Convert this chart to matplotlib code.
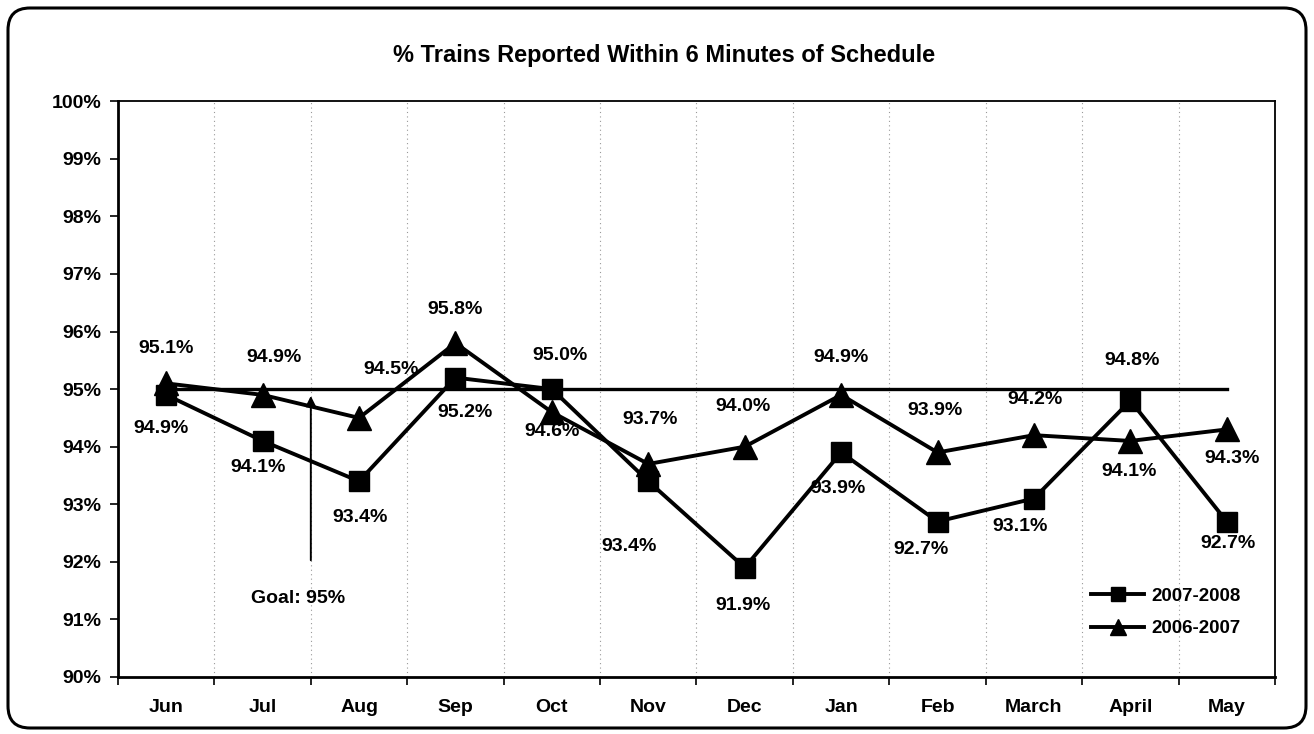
import matplotlib.pyplot as plt
from matplotlib.patches import FancyBboxPatch

plt.rcParams['font.family'] = ['Liberation Sans', 'DejaVu Sans']

months = ["Jun", "Jul", "Aug", "Sep", "Oct", "Nov", "Dec", "Jan", "Feb", "March", "April", "May"]
s0708 = [94.9, 94.1, 93.4, 95.2, 95.0, 93.4, 91.9, 93.9, 92.7, 93.1, 94.8, 92.7]
s0607 = [95.1, 94.9, 94.5, 95.8, 94.6, 93.7, 94.0, 94.9, 93.9, 94.2, 94.1, 94.3]
goal = [95.0] * len(months)

# label offsets in points (dx, dy)
off0708 = [(-4, -24), (-3, -19), (1, -26), (7, -25), (6, 24), (-14, -47), (-1, -27),
           (-2, -26), (-12, -20), (-10, -20), (1, 29), (1, -16)]
off0607 = [(0, 25), (8, 27), (23, 35), (0, 24), (0, -14), (1, 32), (-1, 29),
           (0, 27), (-2, 30), (1, 26), (-1, -22), (4, -21)]

fig = plt.figure(figsize=(13.14, 7.34), dpi=100)
ax = fig.add_axes([0.0898, 0.0777, 0.8805, 0.7843])

x = list(range(len(months)))
ax.plot(x, goal, color="black", linewidth=2.4, zorder=2)
l1, = ax.plot(x, s0708, color="black", linewidth=2.8, marker="s", markersize=15,
              label="2007-2008", zorder=3)
l2, = ax.plot(x, s0607, color="black", linewidth=2.8, marker="^", markersize=17,
              label="2006-2007", zorder=3)

for xi, v, (dx, dy) in zip(x, s0708, off0708):
    ax.annotate(f"{v:.1f}%", (xi, v), xytext=(dx, dy), textcoords="offset points",
                ha="center", va="center", fontsize=14, fontweight="bold")
for xi, v, (dx, dy) in zip(x, s0607, off0607):
    ax.annotate(f"{v:.1f}%", (xi, v), xytext=(dx, dy), textcoords="offset points",
                ha="center", va="center", fontsize=14, fontweight="bold")

ax.annotate("", xy=(1.5, 94.93), xytext=(1.5, 91.98),
            arrowprops=dict(arrowstyle="-|>", color="black", lw=1.4, mutation_scale=15))
ax.text(1.37, 91.37, "Goal: 95%", ha="center", va="center", fontsize=14, fontweight="bold")

ax.set_xlim(-0.5, 11.5)
ax.set_ylim(90, 100)
ax.set_yticks(range(90, 101))
ax.set_yticklabels([f"{v}%" for v in range(90, 101)], fontsize=14, fontweight="bold")
ax.set_xticks(x)
ax.set_xticklabels(months, fontsize=14, fontweight="bold")
ax.tick_params(axis="x", which="major", length=0, pad=16)
ax.set_xticks([i + 0.5 for i in range(-1, 12)], minor=True)
ax.tick_params(axis="x", which="minor", length=6, width=1.2, direction="out")
ax.tick_params(axis="y", length=6, width=1.2, direction="out", pad=6)
ax.grid(axis="x", which="minor", color="#999999", linestyle=(0, (1, 3)), linewidth=0.8)

for side in ["left", "bottom"]:
    ax.spines[side].set_linewidth(2)
for side in ["top", "right"]:
    ax.spines[side].set_linewidth(1.3)

fig.text(0.505, 0.925, "% Trains Reported Within 6 Minutes of Schedule",
         ha="center", va="center", fontsize=17, fontweight="bold")

leg = ax.legend(handles=[l1, l2], loc="lower right", bbox_to_anchor=(0.985, 0.04),
                frameon=False, handlelength=2.8, handletextpad=0.4, labelspacing=0.8,
                prop={"weight": "bold", "size": 13.5}, markerscale=0.7)

frame = FancyBboxPatch((0.08, 0.06), 12.98, 7.2, boxstyle="round,pad=0,rounding_size=0.22",
                       transform=fig.dpi_scale_trans, fill=False, edgecolor="black",
                       linewidth=2.2)
fig.patches.append(frame)

fig.savefig("out.png", dpi=100)
